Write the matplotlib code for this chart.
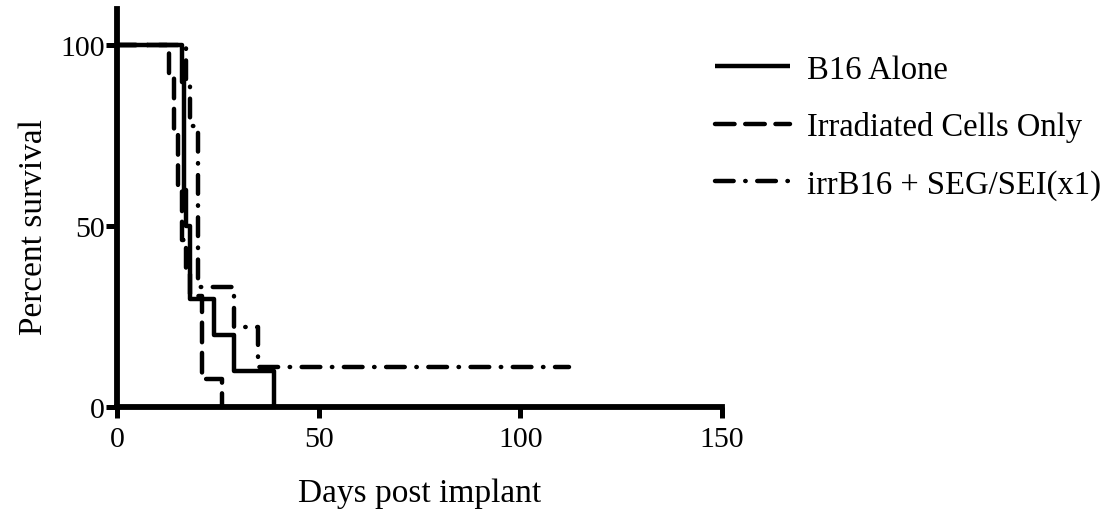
import matplotlib
matplotlib.use("Agg")
import matplotlib.pyplot as plt
from matplotlib.lines import Line2D

plt.rcParams['font.family'] = ['Liberation Serif', 'DejaVu Serif']

# survival curves (day, percent)
b16_days = [0, 16, 16.5, 17, 18, 24, 29, 39]
b16_surv = [100, 90, 60, 50, 30, 20, 10, 0]

irr_days = [0, 13, 14, 15, 16, 17, 18, 21, 26]
irr_surv = [100, 92.3, 76.9, 61.5, 46.2, 38.5, 30.8, 7.7, 0]

seg_days = [0, 17, 18, 20, 29, 35, 112]
seg_surv = [100, 88.9, 77.8, 33.3, 22.2, 11.1, 11.1]

labels = ["B16 Alone", "Irradiated Cells Only", "irrB16 + SEG/SEI(x1)"]
xticks = [0, 50, 100, 150]
yticks = [0, 50, 100]

lw = 3.2
dash_style = (0, (4.4, 2.4))
dashdot_style = (0, (4.2, 2.6, 0.1, 2.6))

fig = plt.figure(figsize=(11.15, 5.1), dpi=100)
ax = fig.add_axes([0.105, 0.2, 0.5425, 0.78])

ax.step(b16_days, b16_surv, where='post', color='black', lw=lw,
        solid_capstyle='butt', clip_on=False, zorder=3)
ax.step(irr_days, irr_surv, where='post', color='black', lw=lw,
        linestyle=dash_style, dash_capstyle='round', clip_on=False, zorder=3)
ax.step(seg_days, seg_surv, where='post', color='black', lw=lw,
        linestyle=dashdot_style, dash_capstyle='round', clip_on=False, zorder=3)

ax.set_xlim(0, 150)
ax.set_ylim(0, 110)
ax.set_xticks(xticks)
ax.set_yticks(yticks)
for s in ['top', 'right']:
    ax.spines[s].set_visible(False)
for s in ['left', 'bottom']:
    ax.spines[s].set_linewidth(4.2)
ax.tick_params(width=3.6, length=8, labelsize=21.5)
ax.tick_params(axis='x', pad=6)
ax.tick_params(axis='y', pad=1)
ax.set_xlabel("Days post implant", fontsize=24, labelpad=18)
ax.set_ylabel("Percent survival", fontsize=24)
ax.yaxis.set_label_coords(-0.113, 50 / 110)

handles = [
    Line2D([], [], color='black', lw=lw, solid_capstyle='butt'),
    Line2D([], [], color='black', lw=lw, linestyle=dash_style, dash_capstyle='round'),
    Line2D([], [], color='black', lw=lw, linestyle=dashdot_style, dash_capstyle='round'),
]
fig.legend(handles, labels, loc='upper left', bbox_to_anchor=(0.641, 0.892),
           frameon=False, fontsize=23.5, handlelength=2.3, handletextpad=0.52,
           labelspacing=0.82, borderpad=0, borderaxespad=0)

fig.savefig("out.png", dpi=100)
